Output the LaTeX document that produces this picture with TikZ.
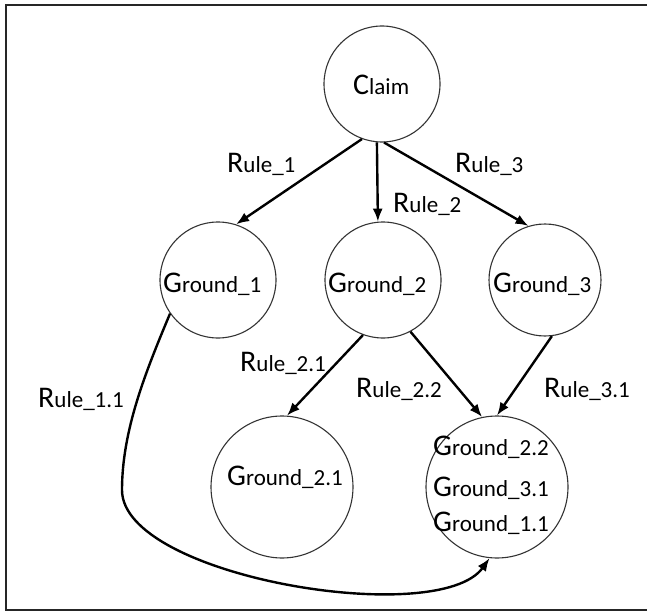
\documentclass[tikz,border=0pt]{standalone}
\usepackage{fontspec}
\setmainfont{Carlito}
\usetikzlibrary{arrows.meta}
\def\word#1#2{{\fontsize{30}{30}\selectfont #1}{\fontsize{23}{23}\selectfont #2}}
\tikzset{
	ground/.style={draw=black!80, line width=1.1pt, circle, inner sep=0pt},
	rule/.style={line width=2.4pt, -{Latex[length=13pt,width=10pt]}},
	txt/.style={inner sep=0pt, anchor=base west}
}
\begin{document}
\begin{tikzpicture}[x=1pt,y=-1pt]
		%%%%% START %%%%%
		\useasboundingbox (0,0) rectangle (647,612);
		\draw[line width=2pt, black!85] (647,5) -- (6,5) -- (6,610) -- (647,610);
		
		\node[ground, minimum size=116pt] (claim) at (382,84) {};
		\node[ground, minimum size=116pt] (g1) at (218,280) {};
		\node[ground, minimum size=116pt] (g2) at (383,280) {};
		\node[ground, minimum size=112pt] (g3) at (545,280) {};
		\node[ground, minimum size=142pt] (g21) at (282,487) {};
		\node[ground, minimum size=142pt] (gall) at (497,487) {};
		
		\node[txt] (claimtxt) at (353,95) {\word{C}{laim}};
		\node[txt] (g1txt) at (163,292) {\word{G}{round\_1}};
		\node[txt] (g2txt) at (328,292) {\word{G}{round\_2}};
		\node[txt] (g3txt) at (493,292) {\word{G}{round\_3}};
		\node[txt] (g21txt) at (227,485) {\word{G}{round\_2.1}};
		\node[txt] (g22txt) at (433,455) {\word{G}{round\_2.2}};
		\node[txt] (g31txt) at (433,496) {\word{G}{round\_3.1}};
		\node[txt] (g11txt) at (433,531) {\word{G}{round\_1.1}};
		
		\draw[rule] (claim.250) -- (g1.72);
		\draw[rule] (claim.265) -- (g2.95);
		\draw[rule] (claim.272) -- (g3.107);
		\draw[rule] (g2.250) -- (g21.86);
		\draw[rule] (g2.298) -- (gall.102);
		\draw[rule] (g3.277) -- (gall.90);
		\draw[rule] (g1.215) .. controls (146,371) and (122,430) .. (122,490)
			.. controls (122,577) and (439,629) .. (gall.264);
		
		\node[txt] (r1) at (227,173) {\word{R}{ule\_1}};
		\node[txt] (r2) at (393,213) {\word{R}{ule\_2}};
		\node[txt] (r3) at (455,173) {\word{R}{ule\_3}};
		\node[txt] (r21) at (240,371) {\word{R}{ule\_2.1}};
		\node[txt] (r22) at (356,397) {\word{R}{ule\_2.2}};
		\node[txt] (r31) at (544,397) {\word{R}{ule\_3.1}};
		\node[txt] (r11) at (38,407) {\word{R}{ule\_1.1}};
		%%%%% END %%%%%
\end{tikzpicture}
\end{document}
